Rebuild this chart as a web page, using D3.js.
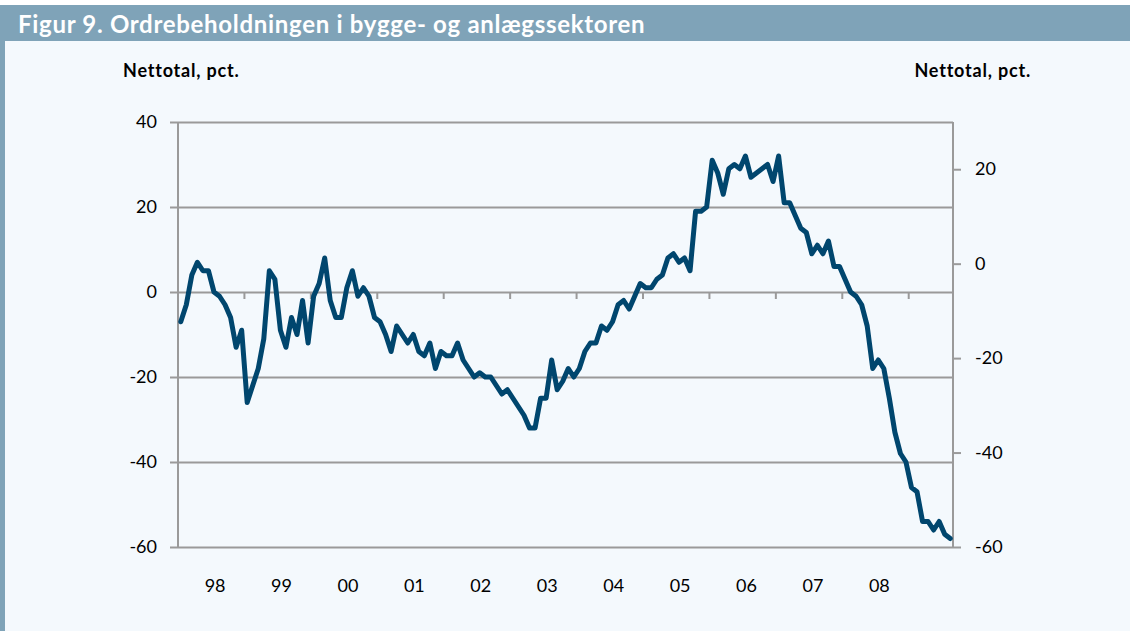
<!DOCTYPE html>
<html>
<head>
<meta charset="utf-8">
<script src="https://cdn.jsdelivr.net/npm/d3@7/dist/d3.min.js"></script>
<style>
  body { margin: 0; background: #ffffff; }
  svg { display: block; font-family: Lato, "Open Sans", sans-serif; }
</style>
</head>
<body>
<svg id="chart"></svg>
<script>
// monthly, Jan 1998 - Aug 2009
const years = ["98", "99", "00", "01", "02", "03", "04", "05", "06", "07", "08"];
const leftTicks = [40, 20, 0, -20, -40, -60];
const rightTicks = [20, 0, -20, -40, -60];
const orderBook = [
    -7, -3, 4, 7, 5, 5, 0, -1, -3, -6, -13, -9,
    -26, -22, -18, -11, 5, 3, -9, -13, -6, -10, -2, -12,
    -1, 2, 8, -2, -6, -6, 1, 5, -1, 1, -1, -6,
    -7, -10, -14, -8, -10, -12, -10, -14, -15, -12, -18, -14,
    -15, -15, -12, -16, -18, -20, -19, -20, -20, -22, -24, -23,
    -25, -27, -29, -32, -32, -25, -25, -16, -23, -21, -18, -20,
    -18, -14, -12, -12, -8, -9, -7, -3, -2, -4, -1, 2,
    1, 1, 3, 4, 8, 9, 7, 8, 5, 19, 19, 20,
    31, 28, 23, 29, 30, 29, 32, 27, 28, 29, 30, 26,
    32, 21, 21, 18, 15, 14, 9, 11, 9, 12, 6, 6,
    3, 0, -1, -3, -8, -18, -16, -18, -25, -33, -38, -40,
    -46, -47, -54, -54, -56, -54, -57, -58
];

const width = 1130;
const height = 631;
const margin = { top: 122, right: 177, bottom: 84, left: 178 };
const titleColor = "#7fa3b8";
const gridColor = "#9a9a9a";

const svg = d3.select("#chart")
    .attr("width", width)
    .attr("height", height);

// panel
svg.append("rect")
    .attr("x", 0).attr("y", 0)
    .attr("width", width).attr("height", height)
    .attr("fill", "#f4f9fd");
svg.append("rect")
    .attr("x", 0).attr("y", 0)
    .attr("width", width).attr("height", 5)
    .attr("fill", "#ffffff");
svg.append("rect")
    .attr("x", 0).attr("y", 5)
    .attr("width", width).attr("height", 36)
    .attr("fill", titleColor);
svg.append("rect")
    .attr("x", 0).attr("y", 41)
    .attr("width", 5).attr("height", height - 41)
    .attr("fill", titleColor);

svg.append("text")
    .attr("x", 18).attr("y", 33)
    .attr("fill", "#ffffff")
    .attr("font-size", 24)
    .attr("font-weight", "bold")
    .attr("letter-spacing", 0.7)
    .text("Figur 9. Ordrebeholdningen i bygge- og anlægssektoren");

svg.append("text")
    .attr("x", 123).attr("y", 77)
    .attr("font-size", 18)
    .attr("font-weight", "bold")
    .attr("letter-spacing", 0.8)
    .attr("fill", "#000")
    .text("Nettotal, pct.");
svg.append("text")
    .attr("x", 1031).attr("y", 77)
    .attr("text-anchor", "end")
    .attr("font-size", 18)
    .attr("font-weight", "bold")
    .attr("letter-spacing", 0.8)
    .attr("fill", "#000")
    .text("Nettotal, pct.");

const x = d3.scaleLinear()
    .domain([0, orderBook.length])
    .range([margin.left, width - margin.right]);

const yLeft = d3.scaleLinear()
    .domain([-60, 40])
    .range([height - margin.bottom, margin.top]);

const yRight = d3.scaleLinear()
    .domain([-60, 30])
    .range([height - margin.bottom, margin.top]);

// gridlines + left axis
const leftAxis = svg.append("g")
    .attr("transform", `translate(${margin.left},0)`)
    .call(d3.axisLeft(yLeft)
        .tickValues(leftTicks)
        .tickSize(8)
        .tickPadding(13)
        .tickFormat(d => String(d)));
leftAxis.select(".domain").remove();
leftAxis.selectAll(".tick line")
    .attr("x2", x.range()[1] - margin.left)
    .attr("x1", -8)
    .attr("stroke", gridColor)
    .attr("stroke-width", 2);
leftAxis.selectAll(".tick text")
    .attr("font-size", 18)
    .attr("font-family", "Lato, sans-serif")
    .attr("fill", "#000");

// right axis
const rightAxis = svg.append("g")
    .attr("transform", `translate(${width - margin.right},0)`)
    .call(d3.axisRight(yRight)
        .tickValues(rightTicks)
        .tickSize(8)
        .tickPadding(14)
        .tickFormat(d => String(d)));
rightAxis.select(".domain").remove();
rightAxis.selectAll(".tick line")
    .attr("stroke", gridColor)
    .attr("stroke-width", 2);
rightAxis.selectAll(".tick text")
    .attr("font-size", 18)
    .attr("font-family", "Lato, sans-serif")
    .attr("fill", "#000");

// vertical frame lines
svg.append("line")
    .attr("x1", margin.left).attr("x2", margin.left)
    .attr("y1", margin.top).attr("y2", height - margin.bottom)
    .attr("stroke", gridColor).attr("stroke-width", 2);
svg.append("line")
    .attr("x1", width - margin.right).attr("x2", width - margin.right)
    .attr("y1", margin.top).attr("y2", height - margin.bottom)
    .attr("stroke", gridColor).attr("stroke-width", 2);

// year ticks on zero line
const yearIdx = d3.range(1, years.length + 1).map(i => i * 12);
svg.append("g")
    .selectAll("line")
    .data(yearIdx)
    .enter().append("line")
    .attr("x1", d => x(d)).attr("x2", d => x(d))
    .attr("y1", yLeft(0)).attr("y2", yLeft(0) + 7)
    .attr("stroke", gridColor)
    .attr("stroke-width", 2);

// year labels
svg.append("g")
    .selectAll("text")
    .data(years)
    .enter().append("text")
    .attr("x", (d, i) => x(i * 12 + 6.7))
    .attr("y", 592)
    .attr("text-anchor", "middle")
    .attr("font-size", 18)
    .attr("fill", "#000")
    .text(d => d);

// series
const line = d3.line()
    .x((d, i) => x(i + 0.5))
    .y(d => yLeft(d));

svg.append("path")
    .datum(orderBook)
    .attr("d", line)
    .attr("fill", "none")
    .attr("stroke", "#00466e")
    .attr("stroke-width", 5)
    .attr("stroke-linejoin", "round")
    .attr("stroke-linecap", "round");
</script>
</body>
</html>
